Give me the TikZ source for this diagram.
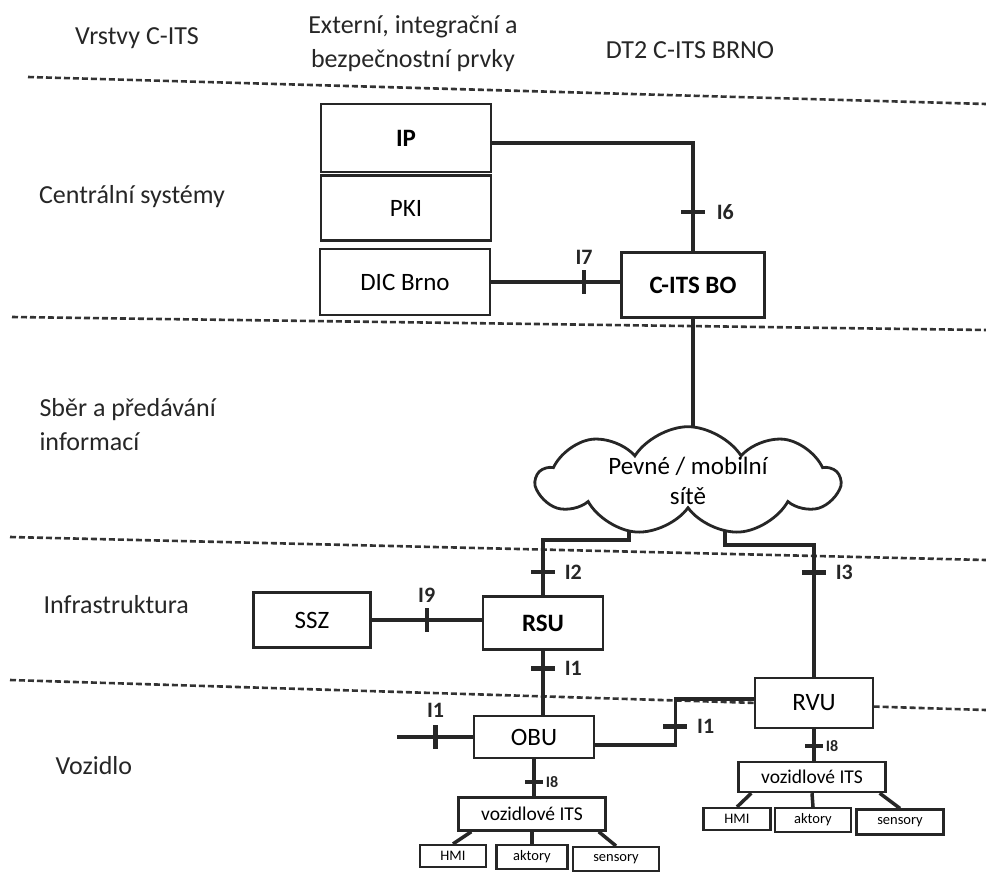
\documentclass[tikz,border=0pt]{standalone}
\usepackage{fontspec}
\setmainfont{Carlito}
\usetikzlibrary{shapes.symbols,calc}
\tikzset{
  box/.style={draw=black!85, line width=2.8pt, fill=white, inner sep=0pt,
    font=\fontsize{25}{29}\selectfont},
  boldbox/.style={box, font=\fontsize{25}{29}\selectfont\bfseries},
  itsbox/.style={box, line width=2.4pt, font=\fontsize{19.5}{21}\selectfont},
  subbox/.style={box, line width=2.2pt, font=\fontsize{14.5}{16}\selectfont},
  conn/.style={black!85, line width=3.5pt},
  layerline/.style={black!80, line width=2.6pt, dash pattern=on 6pt off 3pt},
  lbl/.style={font=\fontsize{26}{34}\selectfont, text=black!85},
  ilbl/.style={font=\fontsize{22}{24}\selectfont\bfseries, text=black!85, inner sep=2pt},
  smallilbl/.style={font=\fontsize{16}{18}\selectfont\bfseries, text=black!85, inner sep=1pt},
  tickh/.style={fill=black!85, minimum width=24pt, minimum height=4.5pt, inner sep=0pt, outer sep=0pt},
  tickv/.style={fill=black!85, minimum width=4.5pt, minimum height=24pt, inner sep=0pt, outer sep=0pt},
  smalltick/.style={fill=black!85, minimum width=18pt, minimum height=4.5pt, inner sep=0pt, outer sep=0pt},
}
\begin{document}
\begin{tikzpicture}[x=1pt, y=-1pt]
\useasboundingbox (0,0) rectangle (986,871);
% layer boundaries
\draw[layerline] (28,77) -- (986,104);
\draw[layerline] (12,317) -- (986,330);
\draw[layerline] (10,537) -- (986,560);
\draw[layerline] (10,680) -- (986,710);
% headings
\node[lbl] (hlayers) at (137,38) {Vrstvy C-ITS};
\node[lbl, align=center] (hext) at (413,44) {Externí, integrační a\\bezpečnostní prvky};
\node[lbl] (hdt) at (690,50) {DT2 C-ITS BRNO};
% layer names
\node[lbl] (lcentral) at (132,197) {Centrální systémy};
\node[lbl, align=left, anchor=west] (lsber) at (36,425) {Sběr a předávání\\informací};
\node[lbl, anchor=west] (linfra) at (40,605) {Infrastruktura};
\node[lbl, anchor=west] (lvoz) at (52,766) {Vozidlo};
% central systems
\node[boldbox, minimum width=170pt, minimum height=68pt] (ip) at (406,138) {IP};
\node[box, minimum width=170pt, minimum height=65pt] (pki) at (406,208) {PKI};
\node[box, minimum width=170pt, minimum height=66pt] (dic) at (405,282) {DIC Brno};
\node[boldbox, minimum width=143pt, minimum height=65pt] (bo) at (693,285) {C-ITS BO};
\draw[conn] ([yshift=-5pt]ip.east) -| node[pos=0.82, tickh, label={[ilbl, label distance=8pt]right:I6}] {} (bo.north);
\draw[conn] (dic.east) -- node[pos=0.72, tickv, label={[ilbl, label distance=2pt]above:I7}] {} (dic.east -| bo.west);
% network
\coordinate (netL) at (629,500);
\coordinate (netR) at (725,500);
\draw[conn] (bo.south) -- (bo.south |- netL);
\node[boldbox, minimum width=120pt, minimum height=53pt] (rsu) at (543,623) {RSU};
\node[box, minimum width=118pt, minimum height=50pt] (rvu) at (814,703) {RVU};
\draw[conn] (netL) -- ++(0,40) -| node[pos=0.79, tickh, label={[ilbl, label distance=6pt]right:I2}] {} (rsu.north);
\draw[conn] (netR) -- ++(0,45) -| node[pos=0.605, tickh, label={[ilbl, label distance=6pt]right:I3}] {} (rvu.north);
\node[cloud, draw=black!85, line width=2.8pt, fill=white, cloud puffs=9, cloud puff arc=115,
  aspect=3.6, minimum width=302pt, minimum height=82pt, inner sep=0pt, align=center,
  font=\fontsize{25}{30}\selectfont] (net) at (688,481) {Pevné / mobilní\\sítě};
% infrastructure
\node[box, minimum width=117pt, minimum height=55pt] (ssz) at (312,620) {SSZ};
\draw[conn] (ssz.east) -- node[pos=0.5, tickv, label={[ilbl, label distance=2pt]above:I9}] {} (ssz.east -| rsu.west);
% vehicle
\node[box, minimum width=120pt, minimum height=42pt] (obu) at (534,737) {OBU};
\coordinate (obuext) at (397,737);
\draw[conn] (rsu.south) -- node[pos=0.28, tickh, label={[ilbl, label distance=6pt]right:I1}] {} (rsu.south |- obu.north);
\draw[conn] (obu.west) -- node[pos=0.49, tickv, label={[ilbl, label distance=4pt]above:I1}] {} (obuext);
\draw[conn] ([yshift=-8pt]obu.east) -- ++(80,0) |- node[pos=0.2, tickh, label={[ilbl, label distance=6pt]right:I1}] {} ([yshift=4pt]rvu.west);
\node[itsbox, minimum width=147pt, minimum height=33pt] (its1) at (532,814) {vozidlové ITS};
\node[itsbox, minimum width=147pt, minimum height=30pt] (its2) at (812,777) {vozidlové ITS};
\draw[conn] (obu.south) -- node[pos=0.61, smalltick, label={[smallilbl]right:I8}] {} (obu.south |- its1.north);
\draw[conn] (rvu.south) -- node[pos=0.53, smalltick, label={[smallilbl]right:I8}] {} (rvu.south |- its2.north);
\node[subbox, minimum width=66pt, minimum height=22pt] (hmi1) at (453,856) {HMI};
\node[subbox, minimum width=71pt, minimum height=24pt] (akt1) at (532,857) {aktory};
\node[subbox, minimum width=86pt, minimum height=24pt] (sens1) at (616,859) {sensory};
\node[subbox, minimum width=67pt, minimum height=22pt] (hmi2) at (737,819) {HMI};
\node[subbox, minimum width=76pt, minimum height=24pt] (akt2) at (813,820) {aktory};
\node[subbox, minimum width=87pt, minimum height=25pt] (sens2) at (900,822) {sensory};
\draw[conn] ([xshift=14pt]its1.south west) -- (hmi1.north);
\draw[conn] (its1.south) -- (akt1.north);
\draw[conn] ([xshift=-8pt]its1.south east) -- (sens1.north);
\draw[conn] ([xshift=14pt]its2.south west) -- (hmi2.north);
\draw[conn] (its2.south) -- (akt2.north);
\draw[conn] ([xshift=-7pt]its2.south east) -- (sens2.north);
\end{tikzpicture}
\end{document}
